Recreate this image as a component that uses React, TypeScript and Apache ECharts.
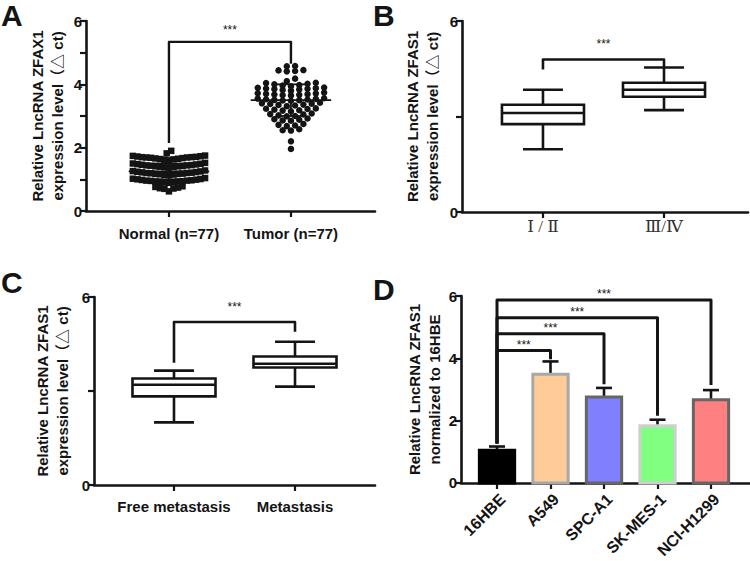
import React, { useEffect, useRef } from 'react';
import * as echarts from 'echarts';

// ---------- Panel A: scatter (dot) plot ----------
const scatterCategories = ['Normal (n=77)', 'Tumor (n=77)'];
const normalValues = [
  1.90, 1.82,
  1.72, 1.70, 1.68, 1.66, 1.71, 1.64, 1.69, 1.73, 1.67, 1.65, 1.70, 1.62, 1.75, 1.60, 1.74, 1.63, 1.69,
  1.50, 1.46, 1.44, 1.40, 1.43, 1.38, 1.47, 1.41, 1.45, 1.39, 1.48, 1.42, 1.52, 1.37, 1.49, 1.44, 1.41,
  1.26, 1.22, 1.20, 1.16, 1.19, 1.14, 1.23, 1.17, 1.21, 1.15, 1.24, 1.18, 1.28, 1.13, 1.25, 1.20, 1.17,
  1.02, 0.98, 0.96, 0.92, 0.95, 0.90, 0.99, 0.93, 0.97, 0.91, 1.00, 0.94, 1.04, 0.89, 1.01, 0.96, 0.93,
  0.78, 0.74, 0.72, 0.70, 0.76, 0.71, 0.62,
];
const tumorValues = [
  4.58, 4.57,
  4.44, 4.42, 4.45, 4.41,
  4.18, 4.10,
  4.04, 4.02, 4.00, 3.98, 4.05, 3.96, 3.94,
  3.88, 3.86, 3.90, 3.84, 3.82, 3.87, 3.80, 3.89, 3.85,
  3.72, 3.70, 3.68, 3.66, 3.71, 3.69, 3.74, 3.65, 3.67,
  3.55, 3.53, 3.50, 3.48, 3.54, 3.51, 3.56, 3.49, 3.52,
  3.40, 3.38, 3.35, 3.33, 3.39, 3.36, 3.42, 3.31,
  3.24, 3.22, 3.18, 3.20, 3.15, 3.23, 3.17,
  3.08, 3.05, 3.02, 3.00, 3.06, 2.99,
  2.92, 2.88, 2.85, 2.86, 2.90,
  2.75, 2.72, 2.70, 2.68,
  2.58, 2.55, 2.54,
  2.20,
  1.96,
];
const scatterMean = [1.25, 3.5];
const scatterSD = [0.25, 0.5];
// [from, to, top, leftEnd, rightEnd]
const bracketA = [[0, 1, 5.34, 2.15, 4.65]];

// ---------- Panel B: box plot by stage ----------
const stageCategories = ['Ⅰ / Ⅱ', 'Ⅲ/Ⅳ'];
// [min, q1, median, q3, max]
const stageBox = [
  [1.97, 2.76, 3.11, 3.37, 3.84],
  [3.2, 3.62, 3.84, 4.06, 4.54],
];
const bracketB = [[0, 1, 4.79, 4.48, 4.54]];

// ---------- Panel C: box plot by metastasis ----------
const metaCategories = ['Free metastasis', 'Metastasis'];
const metaBox = [
  [2.0, 2.83, 3.2, 3.4, 3.65],
  [3.14, 3.75, 3.87, 4.1, 4.57],
];
const bracketC = [[0, 1, 5.2, 3.9, 4.89]];

// ---------- Panel D: bar chart of cell lines ----------
const cellLines = ['16HBE', 'A549', 'SPC-A1', 'SK-MES-1', 'NCI-H1299'];
const cellMeans = [1.05, 3.49, 2.76, 1.84, 2.67];
const cellErrors = [0.12, 0.41, 0.29, 0.19, 0.31];
const cellFill = ['#000000', '#FFCC99', '#8080FF', '#80FF80', '#FF8080'];
const cellBorder = ['#000000', '#A8A8A8', '#666666', '#CFCFCF', '#666666'];
const bracketD = [
  [0, 1, 4.25, 1.27, 3.97],
  [0, 2, 4.79, 1.27, 3.17],
  [0, 3, 5.3, 1.27, 2.16],
  [0, 4, 5.87, 1.27, 3.14],
];

const SANS = "'Liberation Sans', Arial, 'Noto Sans CJK SC', sans-serif";
const INK = '#141414';

function swarm(values: number[], center: number, bin: number, dx: number) {
  const groups = new Map<number, number[]>();
  values.forEach((v) => {
    const k = Math.round(v / bin);
    if (!groups.has(k)) groups.set(k, []);
    groups.get(k)!.push(v);
  });
  const out: number[][] = [];
  groups.forEach((arr) => {
    arr.sort((a, b) => a - b);
    const n = arr.length;
    const slots: number[] = [];
    for (let i = 0; i < n; i++) slots.push((i - (n - 1) / 2) * dx);
    slots.sort((a, b) => Math.abs(a) - Math.abs(b) || a - b);
    arr.forEach((v, i) => out.push([center + slots[i], v]));
  });
  return out;
}

function bracketSeries(idx: number, data: number[][], starGap: number, lw: number) {
  return {
    type: 'custom',
    xAxisIndex: idx,
    yAxisIndex: idx,
    data,
    silent: true,
    renderItem: (_p: any, api: any) => {
      const x1 = api.value(0), x2 = api.value(1), top = api.value(2);
      const l = api.value(3), r = api.value(4);
      const pL = api.coord([x1, l]);
      const pTL = api.coord([x1, top]);
      const pTR = api.coord([x2, top]);
      const pR = api.coord([x2, r]);
      return {
        type: 'group',
        children: [
          {
            type: 'polyline',
            shape: { points: [pL, pTL, pTR, pR] },
            style: { stroke: INK, lineWidth: lw, fill: null, lineJoin: 'round' },
          },
          {
            type: 'text',
            x: (pTL[0] + pTR[0]) / 2,
            y: pTL[1] - starGap,
            style: {
              text: '***',
              fill: INK,
              fontSize: 12,
              fontFamily: SANS,
              align: 'center',
              verticalAlign: 'middle',
            },
          },
        ],
      };
    },
  };
}

function boxSeries(idx: number, boxes: number[][], halfW: number, capW: number) {
  return {
    type: 'custom',
    xAxisIndex: idx,
    yAxisIndex: idx,
    data: boxes.map((b, i) => [i, ...b]),
    silent: true,
    renderItem: (_p: any, api: any) => {
      const x = api.value(0);
      const mn = api.value(1), q1 = api.value(2), md = api.value(3), q3 = api.value(4), mx = api.value(5);
      const c = (xx: number, yy: number) => api.coord([xx, yy]);
      const st = { stroke: INK, lineWidth: 2.6, fill: null };
      const line = (a: number[], b: number[]) => ({ type: 'line', shape: { x1: a[0], y1: a[1], x2: b[0], y2: b[1] }, style: st });
      const tl = c(x - halfW, q3), br = c(x + halfW, q1);
      return {
        type: 'group',
        children: [
          line(c(x, q3), c(x, mx)),
          line(c(x, q1), c(x, mn)),
          line(c(x - capW, mx), c(x + capW, mx)),
          line(c(x - capW, mn), c(x + capW, mn)),
          {
            type: 'rect',
            shape: { x: tl[0], y: tl[1], width: br[0] - tl[0], height: br[1] - tl[1] },
            style: { stroke: INK, lineWidth: 2.6, fill: '#fff' },
          },
          line(c(x - halfW, md), c(x + halfW, md)),
        ],
      };
    },
  };
}

function makeYAxis(idx: number, interval: number, hide: number[], name: string, gap: number) {
  return {
    type: 'value',
    gridIndex: idx,
    min: 0,
    max: 6,
    interval,
    name,
    nameLocation: 'middle',
    nameGap: gap,
    nameTextStyle: { fontFamily: SANS, fontWeight: 'bold', fontSize: 15, lineHeight: 20, color: INK },
    axisLine: { show: true, onZero: false, lineStyle: { color: INK, width: 2.6 } },
    axisTick: { show: true, length: 6, lineStyle: { color: INK, width: 2.2 } },
    axisLabel: {
      margin: 4,
      fontFamily: SANS,
      fontWeight: 'bold',
      fontSize: 15,
      color: INK,
      formatter: (v: number) => (hide.includes(v) ? '' : String(v)),
    },
    splitLine: { show: false },
  };
}

function makeXAxis(idx: number, min: number, max: number, cats: string[], label: any) {
  const vals = cats.map((_, i) => i);
  return {
    type: 'value',
    gridIndex: idx,
    min,
    max,
    axisLine: { show: true, onZero: false, lineStyle: { color: INK, width: 2.6 } },
    axisTick: { show: true, customValues: vals, length: 6, lineStyle: { color: INK, width: 2.2 } },
    axisLabel: {
      customValues: vals,
      formatter: (v: number) => cats[Math.round(v)] ?? '',
      color: INK,
      ...label,
    },
    splitLine: { show: false },
  };
}

const letterStyle = { fontFamily: SANS, fontWeight: 'bold', fontSize: 30, lineHeight: 30, fill: INK };

export default function App() {
  const ref = useRef<HTMLDivElement>(null);
  useEffect(() => {
    if (!ref.current) return;
    const chart = echarts.init(ref.current, undefined, { renderer: 'svg' });

    const normalPts = swarm(normalValues, 0, 0.24, 0.037);
    const tumorPts = swarm(tumorValues, 1, 0.16, 0.068);

    const option: any = {
      animation: false,
      backgroundColor: '#ffffff',
      grid: [
        { left: 86, top: 21, width: 289, height: 190 },
        { left: 462, top: 21, width: 286, height: 191 },
        { left: 94, top: 297, width: 281, height: 188 },
        { left: 461, top: 296, width: 289, height: 188 },
      ],
      xAxis: [
        makeXAxis(0, -0.68, 1.689, scatterCategories, { margin: 15, fontFamily: SANS, fontWeight: 'bold', fontSize: 15 }),
        makeXAxis(1, -0.669, 1.694, stageCategories, { margin: 6, fontFamily: "'Liberation Serif', 'DejaVu Serif', serif", fontSize: 17, color: '#333' }),
        makeXAxis(2, -0.661, 1.661, metaCategories, { margin: 14, fontFamily: SANS, fontWeight: 'bold', fontSize: 15 }),
        makeXAxis(3, -0.673, 4.729, cellLines, { margin: 8, fontFamily: SANS, fontWeight: 'bold', fontSize: 16, rotate: 45, verticalAlign: 'top' }),
      ],
      yAxis: [
        makeYAxis(0, 1, [1, 3, 5], 'Relative LncRNA ZFAX1\nexpression level（△ ct)', 19),
        makeYAxis(1, 3, [3], 'Relative LncRNA ZFAS1\nexpression level（△ ct)', 20),
        makeYAxis(2, 3, [3], 'Relative LncRNA ZFAS1\nexpression level（△ ct)', 22),
        makeYAxis(3, 2, [], 'Relative LncRNA ZFAS1\nnormalized to 16HBE', 12),
      ],
      graphic: [
        { type: 'text', left: 1, top: 0, style: { text: 'A', ...letterStyle } },
        { type: 'text', left: 373, top: 0, style: { text: 'B', ...letterStyle } },
        { type: 'text', left: 1, top: 267, style: { text: 'C', ...letterStyle } },
        { type: 'text', left: 373, top: 274, style: { text: 'D', ...letterStyle } },
      ],
      series: [
        // Panel A
        {
          type: 'scatter',
          xAxisIndex: 0,
          yAxisIndex: 0,
          symbol: 'rect',
          symbolSize: 6.5,
          itemStyle: { color: INK, opacity: 1 },
          data: normalPts,
          silent: true,
        },
        {
          type: 'scatter',
          xAxisIndex: 0,
          yAxisIndex: 0,
          symbol: 'circle',
          symbolSize: 6.5,
          itemStyle: { color: INK, opacity: 1 },
          data: tumorPts,
          silent: true,
        },
        {
          type: 'custom',
          xAxisIndex: 0,
          yAxisIndex: 0,
          data: scatterMean.map((m, i) => [i, m, scatterSD[i]]),
          silent: true,
          z: 5,
          renderItem: (_p: any, api: any) => {
            const x = api.value(0), m = api.value(1), sd = api.value(2);
            const c = (xx: number, yy: number) => api.coord([xx, yy]);
            const st = { stroke: INK, lineWidth: 1.8 };
            const line = (a: number[], b: number[]) => ({ type: 'line', shape: { x1: a[0], y1: a[1], x2: b[0], y2: b[1] }, style: st });
            return {
              type: 'group',
              children: [
                line(c(x - 0.33, m), c(x + 0.33, m)),
                line(c(x, m - sd), c(x, m + sd)),
                line(c(x - 0.125, m + sd), c(x + 0.125, m + sd)),
                line(c(x - 0.125, m - sd), c(x + 0.125, m - sd)),
              ],
            };
          },
        },
        bracketSeries(0, bracketA, 12, 2.4),
        // Panel B
        boxSeries(1, stageBox, 0.339, 0.165),
        bracketSeries(1, bracketB, 16, 2.6),
        // Panel C
        boxSeries(2, metaBox, 0.343, 0.165),
        bracketSeries(2, bracketC, 15, 2.6),
        // Panel D
        {
          type: 'custom',
          xAxisIndex: 3,
          yAxisIndex: 3,
          data: cellMeans.map((m, i) => [i, m, cellErrors[i]]),
          silent: true,
          renderItem: (p: any, api: any) => {
            const i = p.dataIndex;
            const x = api.value(0), m = api.value(1), e = api.value(2);
            const hw = 0.33;
            const tl = api.coord([x - hw, m]);
            const br = api.coord([x + hw, 0]);
            const st = { stroke: INK, lineWidth: 2.6 };
            const top = api.coord([x, m + e]);
            const cl = api.coord([x - 0.15, m + e]);
            const cr = api.coord([x + 0.15, m + e]);
            const base = api.coord([x, m]);
            return {
              type: 'group',
              children: [
                { type: 'line', shape: { x1: base[0], y1: base[1], x2: top[0], y2: top[1] }, style: st },
                { type: 'line', shape: { x1: cl[0], y1: cl[1], x2: cr[0], y2: cr[1] }, style: st },
                {
                  type: 'rect',
                  shape: { x: tl[0], y: tl[1], width: br[0] - tl[0], height: br[1] - tl[1] },
                  style: { fill: cellFill[i], stroke: cellBorder[i], lineWidth: 3 },
                },
              ],
            };
          },
        },
        bracketSeries(3, bracketD, 6, 3),
      ],
    };
    chart.setOption(option);
    return () => chart.dispose();
  }, []);
  return <div ref={ref} style={{ position: 'absolute', left: 0, top: 0, width: 750, height: 561, background: '#fff' }} />;
}
